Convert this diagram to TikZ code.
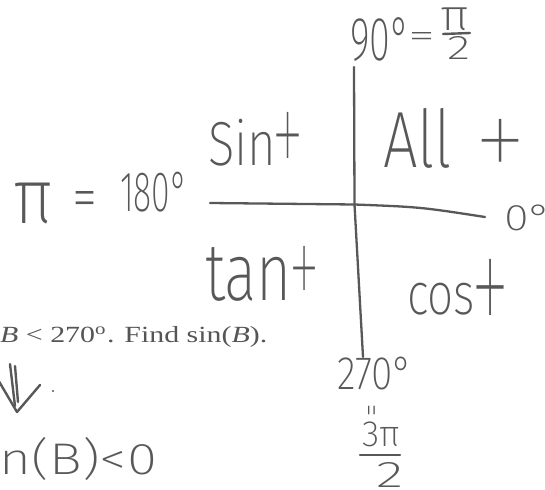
\documentclass[tikz,border=0pt]{standalone}
\usepackage{fontspec}
\usepackage{graphicx}
\setmainfont{Liberation Serif}
\IfFontExistsTF{Fira Sans ExtraLight}{\newfontfamily\hand{Fira Sans ExtraLight}}{%
 \IfFontExistsTF{Fira Sans Light}{\newfontfamily\hand{Fira Sans Light}}{%
  \IfFontExistsTF{Fira Sans Thin}{\newfontfamily\hand{Fira Sans Thin}}{%
   \newfontfamily\hand{Fira Sans}}}}
\IfFontExistsTF{Fira Sans Thin}{\newfontfamily\handthin{Fira Sans Thin}}{\let\handthin\hand}
\definecolor{ink}{RGB}{88,88,88}
\definecolor{printink}{RGB}{85,85,85}
\newcommand{\hwtxt}[3]{\resizebox*{#1pt}{#2pt}{\hand #3}}
\newcommand{\hwthin}[3]{\resizebox*{#1pt}{#2pt}{\handthin #3}}
\begin{document}
\begin{tikzpicture}[x=1pt,y=-1pt,line cap=round,line join=round]
\tikzset{
  hw/.style={inner sep=0pt,outer sep=0pt,anchor=north west,text=ink},
  axisline/.style={draw=ink,line width=2.3pt},
  pen/.style={draw=ink,line width=2.4pt},
}
\useasboundingbox[fill=white] (0,0) rectangle (545,489);
% axes
\coordinate (vtop) at (354,67);
\coordinate (vbot) at (363,357);
\coordinate (hl) at (210,203);
\coordinate (hr) at (485,217);
\coordinate (o) at (354.5,204.5);
\draw[axisline] (vtop) -- (o) -- (vbot);
\draw[axisline] (hl) -- (o) .. controls (420,207) .. (hr);
% top label
\node[hw] (ninety) at (350,18) {\hwtxt{60}{44}{90°}};
\node[hw] (eqtop) at (408,32) {\hwtxt{27}{15}{=}};
\node[hw] (pitop) at (440,8) {\hwtxt{29}{23}{π}};
\coordinate (bt1) at (443,34);
\coordinate (bt2) at (470,33);
\draw[pen] (bt1) -- (bt2);
\node[hw] (twotop) at (447,37) {\hwtxt{23}{23}{2}};
% quadrant labels
\node[hw] (sinw) at (208,119) {\hwtxt{68}{47}{Sin}};
\node[hw] (sinp) at (271.5,112) {\hwthin{33}{69}{+}};
\node[hw] (allw) at (383,108) {\hwtxt{69}{60}{All}};
\node[hw] (allp) at (473.5,119) {\hwthin{54}{64}{+}};
\node[hw] (tanw) at (205,247) {\hwtxt{87}{54}{tan}};
\node[hw] (tanp) at (288,246) {\hwthin{32}{66}{+}};
\node[hw] (cosw) at (407,283) {\hwtxt{68}{32}{cos}};
\node[hw] (cosp) at (470,259) {\hwthin{40}{84}{+}};
% left label
\node[hw] (pil) at (14,183) {\hwtxt{40}{41}{π}};
\node[hw] (eql) at (72,191) {\hwtxt{25}{27}{=}};
\node[hw] (oneeighty) at (120,172) {\hwtxt{68}{40}{180°}};
% right label
\node[hw] (zero) at (504,205) {\hwtxt{48}{26}{0°}};
% bottom label
\node[hw] (twoseventy) at (337,357) {\hwtxt{76}{33}{270°}};
\node[hw,rotate=90,anchor=center] (eqbot) at (375,410) {\hwtxt{12}{14}{=}};
\node[hw] (threepi) at (362,422) {\hwtxt{38}{25}{3π}};
\coordinate (bb1) at (360,455);
\coordinate (bb2) at (400,455);
\draw[pen] (bb1) -- (bb2);
\node[hw] (twobot) at (376,462) {\hwtxt{27}{25}{2}};
% printed text
\node[inner sep=0pt,anchor=north west,text=printink] (task) at (0,326.5)
  {\resizebox*{267pt}{21pt}{\textit{B} < 270\textsuperscript{o}. Find sin(\textit{B}).}};
% arrow
\coordinate (a1t) at (10,364);
\coordinate (a1b) at (15,406);
\coordinate (a2t) at (15,366);
\coordinate (a2b) at (18,402);
\coordinate (al) at (-3,378);
\coordinate (ab) at (17,412);
\coordinate (ar) at (40,385);
\draw[pen] (a1t) -- (a1b);
\draw[pen] (a2t) -- (a2b);
\draw[pen] (al) -- (ab) -- (ar);
\fill[ink] (53,391) circle (1.2);
% result
\node[hw] (result) at (0,437) {\hwtxt{157}{43}{\llap{si}n(B)<0}};
\end{tikzpicture}
\end{document}
